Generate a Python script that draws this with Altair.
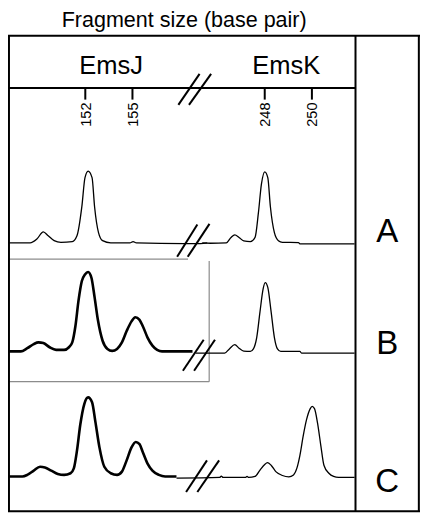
import altair as alt
import pandas as pd

# ---------------- data ----------------
TITLE = "Fragment size (base pair)"
LOCI = ["EmsJ", "EmsK"]
LANES = ["A", "B", "C"]
TICKS_J = [152, 155]
TICKS_K = [248, 250]

# lane A (EmsJ / EmsK): fragment size (bp) and relative signal
A_J_bp = [147.08, 148.49, 148.92, 149.33, 149.64, 150.02, 150.45, 151.17, 151.47, 151.78, 151.98,
          152.18, 152.43, 152.59, 152.84, 153.10, 153.62, 154.84, 155.04, 155.25, 158.29, 159.33, 159.76]
A_J_sig = [0.2, 0.2, 4.2, 11.5, 7.5, 2.5, 0.8, 1.5, 7.5, 37.5, 67.5,
           74.2, 67.5, 37.5, 10.8, 2.5, 0.2, 0.2, 1.5, 0.2, -0.5, -0.5, 0.2]
A_K_bp = [245.35, 245.69, 246.37, 246.57, 246.73, 246.91, 247.11, 247.39, 247.59, 247.73,
          247.86, 248.00, 248.13, 248.24, 248.41, 248.58, 248.75, 249.43, 249.49, 251.81]
A_K_sig = [0.2, -0.2, 0.2, 5.8, 8.5, 5.8, 2.2, 1.5, 5.8, 30.8,
           60.8, 73.5, 67.5, 37.5, 10.8, 2.5, 0.8, 0.5, -0.8, -0.8]

# lane B
B_J_bp = [147.08, 147.90, 148.31, 148.72, 149.02, 149.33, 149.73, 150.14, 150.65, 150.96,
          151.17, 151.37, 151.57, 151.78, 151.98, 152.18, 152.39, 152.59, 152.80, 153.10,
          153.41, 153.71, 154.02, 154.33, 154.63, 154.94, 155.18, 155.45, 155.66, 155.96,
          156.27, 156.57, 156.88, 158.82]
B_J_sig = [0.7, 0.7, 4.0, 8.3, 10.0, 9.3, 5.0, 2.3, 2.3, 5.0,
           10.0, 26.7, 53.3, 73.3, 80.0, 82.7, 76.7, 56.7, 33.3, 11.7,
           3.3, 1.3, 3.3, 10.0, 21.7, 31.7, 36.0, 33.3, 26.7, 15.0,
           6.7, 2.3, 0.7, 0.7]
B_K_bp = [245.07, 246.30, 246.50, 246.73, 246.91, 247.11, 247.39, 247.52, 247.66, 247.80,
          247.93, 248.02, 248.13, 248.27, 248.41, 248.54, 248.68, 249.49, 249.56, 251.81]
B_K_sig = [-1.0, -1.0, 3.3, 7.7, 4.0, 1.0, 0.7, 3.3, 15.0, 41.7,
           65.0, 71.7, 66.7, 41.7, 15.0, 3.3, 0.7, 0.7, -1.0, -1.0]

# lane C
C_J_bp = [147.08, 148.00, 148.31, 148.72, 149.12, 149.43, 149.84, 150.25, 150.65, 151.06,
          151.27, 151.47, 151.68, 151.94, 152.18, 152.43, 152.64, 152.90, 153.21, 153.62,
          154.02, 154.33, 154.63, 154.94, 155.21, 155.45, 155.66, 155.96, 156.27, 156.68,
          157.08, 157.80]
C_J_sig = [0.7, 0.7, 2.3, 6.7, 10.7, 10.0, 6.7, 3.3, 2.3, 4.0,
           9.0, 27.3, 54.0, 75.7, 82.3, 77.3, 57.3, 30.7, 10.7, 4.0,
           2.3, 5.7, 17.3, 30.7, 36.3, 34.0, 25.7, 14.0, 6.7, 2.3,
           0.7, 0.7]
C_K_bp = [244.26, 246.09, 246.16, 246.23, 247.18, 247.25, 247.32, 247.59, 247.80, 248.00,
          248.11, 248.27, 248.47, 248.75, 249.02, 249.22, 249.36, 249.49, 249.63, 249.77,
          249.93, 250.01, 250.11, 250.24, 250.38, 250.51, 250.72, 250.92, 251.13, 251.81]
C_K_sig = [-1.0, -0.3, 1.0, -0.3, -0.3, 0.7, -0.3, 0.7, 7.3, 13.0,
           15.0, 12.3, 5.7, 1.7, 0.3, 2.3, 9.0, 22.3, 42.3, 59.0,
           70.7, 73.0, 70.7, 55.7, 32.3, 12.3, 4.0, 0.7, -0.3, -0.3]

# ---------------- layout (reference-pixel frame) ----------------
REF_W, REF_H = 428, 521
W, H = 412, 505
FONT = "Liberation Sans"

# broken axis calibration: (reference bp, position, units per bp)
CAL = {"EmsJ": (152, 80.3, 16.33), "EmsK": (248, 266.7, 24.5)}
LANE_BASE = {"A": 242.5, "B": 355.0, "C": 484.0}


def to_x(locus, bp):
    b0, p0, k = CAL[locus]
    return p0 + (bp - b0) * k


traces = [
    ("A", "EmsJ", A_J_bp, A_J_sig, "thin"),
    ("A", "EmsK", A_K_bp, A_K_sig, "thin"),
    ("B", "EmsJ", B_J_bp, B_J_sig, "thick"),
    ("B", "EmsK", B_K_bp, B_K_sig, "thin"),
    ("C", "EmsJ", C_J_bp, C_J_sig, "thick"),
    ("C", "EmsK", C_K_bp, C_K_sig, "thin"),
]
rows = []
for lane, locus, bps, sigs, w in traces:
    for i, (b, s) in enumerate(zip(bps, sigs)):
        rows.append({"trace": lane + locus, "i": i, "w": w,
                     "x": to_x(locus, b), "y": LANE_BASE[lane] - s})
tdf = pd.DataFrame(rows)

xs = alt.Scale(domain=[0, REF_W], range=[0, W], nice=False, zero=False)
ys = alt.Scale(domain=[0, REF_H], range=[0, H], nice=False, zero=False)
X = alt.X("x:Q", scale=xs, axis=None)
Y = alt.Y("y:Q", scale=ys, axis=None)


def line_layer(kind, width):
    return alt.Chart(tdf[tdf.w == kind]).mark_line(
        color="black", strokeWidth=width, interpolate="monotone", strokeJoin="round"
    ).encode(x=X, y=Y, detail="trace:N", order="i:Q")


def rules(segs, color, width):
    df = pd.DataFrame(segs, columns=["x", "y", "x2", "y2"])
    return alt.Chart(df).mark_rule(color=color, strokeWidth=width).encode(
        x=X, y=Y, x2="x2:Q", y2="y2:Q")


frame = rules([
    (1, 28.7, 1, 519.5),
    (0, 28.7, 428, 28.7),
    (426.8, 28.7, 426.8, 519.5),
    (0, 519.3, 428, 519.3),
    (361, 28.7, 361, 519.5),
    (0, 82.5, 361, 82.5),
], "black", 2)

gray_box = rules([
    (0, 259, 187, 259),
    (209, 261, 209, 385.5),
    (0, 385.5, 209, 385.5),
], "#8c8c8c", 1.2)

breaks = rules([
    (177, 100, 199, 68), (188, 100, 211, 68),
    (175.7, 256.7, 196.7, 223.3), (186.7, 256.7, 209.3, 222.7),
    (181.7, 374.3, 203.3, 342.3), (193.3, 374.3, 215, 342.3),
    (185, 499.3, 206.7, 466.7), (196.7, 499.3, 219.3, 466.7),
], "black", 2)

tick_rows = [{"x": to_x("EmsJ", t), "label": str(t)} for t in TICKS_J] + \
            [{"x": to_x("EmsK", t), "label": str(t)} for t in TICKS_K]
tick_df = pd.DataFrame(tick_rows)
tick_df["y"] = 82.5
tick_df["y2"] = 94.5
tick_df["ty"] = 97.5
ticks = alt.Chart(tick_df).mark_rule(color="black", strokeWidth=2).encode(
    x=X, y=Y, y2="y2:Q")
tick_labels = alt.Chart(tick_df).mark_text(
    font=FONT, fontSize=14.5, angle=270, align="right", baseline="middle", dy=1.5
).encode(x=X, y=alt.Y("ty:Q", scale=ys, axis=None), text="label:N")

title_df = pd.DataFrame([{"x": 183, "y": 20, "t": TITLE}])
title = alt.Chart(title_df).mark_text(
    font=FONT, fontSize=21.5, align="center", baseline="alphabetic"
).encode(x=X, y=Y, text="t:N")

loci_df = pd.DataFrame({"x": [107, 289], "y": [68.3, 68.3], "t": LOCI})
loci = alt.Chart(loci_df).mark_text(
    font=FONT, fontSize=25.5, align="center", baseline="alphabetic"
).encode(x=X, y=Y, text="t:N")

lane_df = pd.DataFrame({"x": [394, 394, 394], "y": [241, 356.7, 499.3], "t": LANES})
lane_labels = alt.Chart(lane_df).mark_text(
    font=FONT, fontSize=33, align="center", baseline="alphabetic"
).encode(x=X, y=Y, text="t:N")

chart = alt.layer(
    gray_box, frame, ticks, tick_labels, title, loci, lane_labels,
    line_layer("thin", 1.3), line_layer("thick", 2.6), breaks,
).properties(
    width=W, height=H, padding=0,
    autosize=alt.AutoSizeParams(type="none"),
    background="white",
).configure_view(stroke=None)

chart.save("out.html", embed_options={"renderer": "svg", "actions": False})
